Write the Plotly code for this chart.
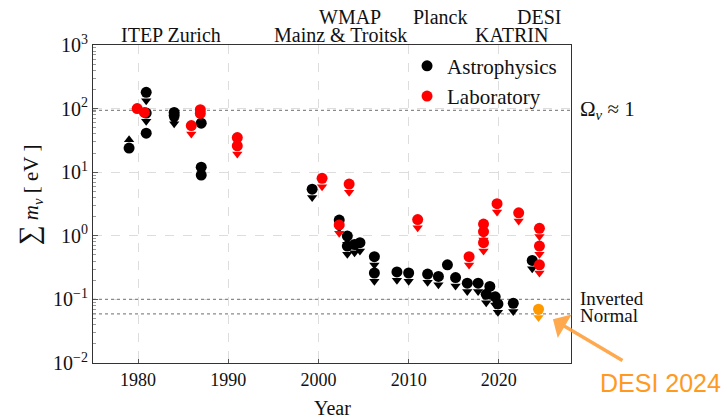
import numpy as np
import plotly.graph_objects as go

# Astrophysical bounds on the summed neutrino mass
astro_year = [1979.0, 1980.9, 1980.9, 1980.9, 1984.0, 1984.0, 1987.0, 1987.0, 1987.0,
              1999.3, 2002.3, 2003.2, 2003.2, 2004.0, 2004.6, 2006.2, 2006.2, 2008.7,
              2010.0, 2012.1, 2013.3, 2014.3, 2015.2, 2016.5, 2017.7, 2019.0, 2018.6,
              2019.6, 2019.9, 2021.6, 2023.7]
astro_val = [24, 180, 85, 41, 87, 78, 59, 12, 9,
             5.4, 1.77, 0.99, 0.69, 0.73, 0.78, 0.47, 0.26, 0.27,
             0.26, 0.25, 0.23, 0.35, 0.22, 0.18, 0.18, 0.16, 0.12,
             0.11, 0.085, 0.087, 0.41]
astro_kind = ["lower", "upper", "upper", "none", "upper", "upper", "none", "none", "none",
              "upper", "upper", "upper", "upper", "upper", "upper", "upper", "upper", "upper",
              "upper", "upper", "upper", "none", "upper", "upper", "upper", "upper", "upper",
              "upper", "upper", "upper", "upper"]

# Laboratory (beta-decay) bounds
lab_year = [1979.9, 1980.7, 1985.9, 1986.9, 1986.9, 1991.0, 1991.0, 2000.4, 2002.3,
            2003.4, 2011.0, 2016.7, 2018.3, 2018.3, 2018.3, 2019.8, 2022.2, 2024.5,
            2024.5, 2024.5]
lab_val = [100, 87, 54, 96, 84, 35, 26, 8.0, 1.48,
           6.5, 1.8, 0.47, 1.53, 1.16, 0.78, 3.2, 2.3, 1.31,
           0.69, 0.35]
lab_kind = ["none", "none", "upper", "none", "none", "none", "upper", "upper", "upper",
            "upper", "upper", "upper", "upper", "upper", "upper", "upper", "upper", "upper",
            "upper", "upper"]

# DESI 2024
desi_year = [2024.4]
desi_val = [0.07]
desi_kind = ["upper"]

# Reference levels
omega_level = 94.0
inverted_level = 0.1
normal_level = 0.059

# Axis ticks
year_ticks = [1980, 1990, 2000, 2010, 2020]
mass_ticks = [0.01, 0.1, 1, 10, 100, 1000]
mass_tick_text = ["10<sup>−2</sup>", "10<sup>−1</sup>", "10<sup>0</sup>",
                  "10<sup>1</sup>", "10<sup>2</sup>", "10<sup>3</sup>"]

# Experiment labels along the top: (text, year, row)
top_labels = [("ITEP Zurich", 1983.6, 0), ("Mainz & Troitsk", 2002.4, 0), ("KATRIN", 2021.4, 0),
              ("WMAP", 2003.5, 1), ("Planck", 2013.5, 1), ("DESI", 2024.5, 1)]

BLACK = "#000000"
RED = "#ff0000"
ORANGE = "#ff9900"
SERIF = "Liberation Serif"
XR = [1975, 2028]
ARROW_SHIFT = 10 ** 0.13

fig = go.Figure()

# dotted reference lines
for lvl in (omega_level, inverted_level, normal_level):
    fig.add_trace(go.Scatter(x=XR, y=[lvl, lvl], mode="lines", showlegend=False,
                             hoverinfo="skip",
                             line=dict(color="#8a8a8a", width=1.3, dash="dot")))


def add_series(years, vals, kinds, color, name, legend):
    years = np.array(years)
    vals = np.array(vals, dtype=float)
    kinds = np.array(kinds)
    up = kinds == "upper"
    lo = kinds == "lower"
    if up.any():
        fig.add_trace(go.Scatter(x=years[up], y=vals[up] / ARROW_SHIFT, mode="markers",
                                 showlegend=False, hoverinfo="skip",
                                 marker=dict(symbol="triangle-down", size=9, color=color)))
    if lo.any():
        fig.add_trace(go.Scatter(x=years[lo], y=vals[lo] * ARROW_SHIFT, mode="markers",
                                 showlegend=False, hoverinfo="skip",
                                 marker=dict(symbol="triangle-up", size=9, color=color)))
    fig.add_trace(go.Scatter(x=years, y=vals, mode="markers", name=name, showlegend=legend,
                             marker=dict(symbol="circle", size=11, color=color)))


add_series(astro_year, astro_val, astro_kind, BLACK, "Astrophysics", True)
add_series(lab_year, lab_val, lab_kind, RED, "Laboratory", True)
add_series(desi_year, desi_val, desi_kind, ORANGE, "DESI 2024", False)

annotations = []
for text, yr, row in top_labels:
    annotations.append(dict(text=text, x=yr, xref="x", y=1.031 if row == 0 else 1.088,
                            yref="paper", showarrow=False, xanchor="center", yanchor="middle",
                            font=dict(family=SERIF, size=20, color="#111")))

annotations += [
    dict(text="Ω<sub><i>ν</i></sub> ≈ 1", xref="paper", x=1.015, yref="y",
         y=np.log10(omega_level), xanchor="left", yanchor="middle", showarrow=False,
         font=dict(family=SERIF, size=21, color="#111")),
    dict(text="Inverted", xref="paper", x=1.015, yref="y", y=np.log10(inverted_level) + 0.02,
         xanchor="left", yanchor="middle", showarrow=False,
         font=dict(family=SERIF, size=19, color="#111")),
    dict(text="Normal", xref="paper", x=1.015, yref="y", y=np.log10(normal_level) - 0.02,
         xanchor="left", yanchor="middle", showarrow=False,
         font=dict(family=SERIF, size=19, color="#111")),
    dict(text="<span style='font-size:28px'>∑</span> <i>m<sub>ν</sub></i> [ eV ]",
         xref="paper", x=-0.132, yref="paper", y=0.53,
         textangle=-90, xanchor="center", yanchor="middle", showarrow=False,
         font=dict(family=SERIF, size=21, color="#111")),
    dict(text="", x=2026.0, xref="x", y=np.log10(0.0487), yref="y", ax=71, ay=42,
         showarrow=True, arrowhead=1, arrowsize=1.3, arrowwidth=3.5,
         arrowcolor="rgba(255,160,60,0.9)"),
    dict(text="DESI 2024", xref="paper", x=1.188, yref="paper", y=-0.063,
         xanchor="center", yanchor="middle", showarrow=False,
         font=dict(family="Liberation Sans", size=25, color="#ff9a1f")),
    dict(text="Year", xref="paper", x=0.5, yref="paper", y=-0.142,
         xanchor="center", yanchor="middle", showarrow=False,
         font=dict(family=SERIF, size=20, color="#111")),
]

fig.update_layout(
    width=727, height=420,
    margin=dict(l=93, r=156, t=45, b=57, autoexpand=False),
    paper_bgcolor="white", plot_bgcolor="white",
    font=dict(family=SERIF, size=18, color="#111"),
    annotations=annotations,
    legend=dict(x=0.657, y=0.998, xanchor="left", yanchor="top", bgcolor="rgba(0,0,0,0)",
                font=dict(family=SERIF, size=21), itemwidth=30, tracegroupgap=2),
    showlegend=True,
)
fig.update_xaxes(range=XR, tickvals=year_ticks, automargin=False,
                 showgrid=True, gridcolor="#dddddd", griddash="dash", gridwidth=1,
                 showline=True, linecolor="#333", linewidth=1, mirror=True,
                 ticks="inside", ticklen=4, tickcolor="#555", zeroline=False,
                 tickfont=dict(family=SERIF, size=18))
fig.update_yaxes(type="log", range=[-2, 3], tickvals=mass_ticks, ticktext=mass_tick_text,
                 automargin=False,
                 showgrid=True, gridcolor="#dddddd", griddash="dash", gridwidth=1,
                 showline=True, linecolor="#333", linewidth=1, mirror=True,
                 ticks="inside", ticklen=5, tickcolor="#555", zeroline=False,
                 minor=dict(ticks="inside", ticklen=3, tickcolor="#999", showgrid=False,
                            dtick="D1"),
                 tickfont=dict(family=SERIF, size=20))

fig.write_html("out.html")
